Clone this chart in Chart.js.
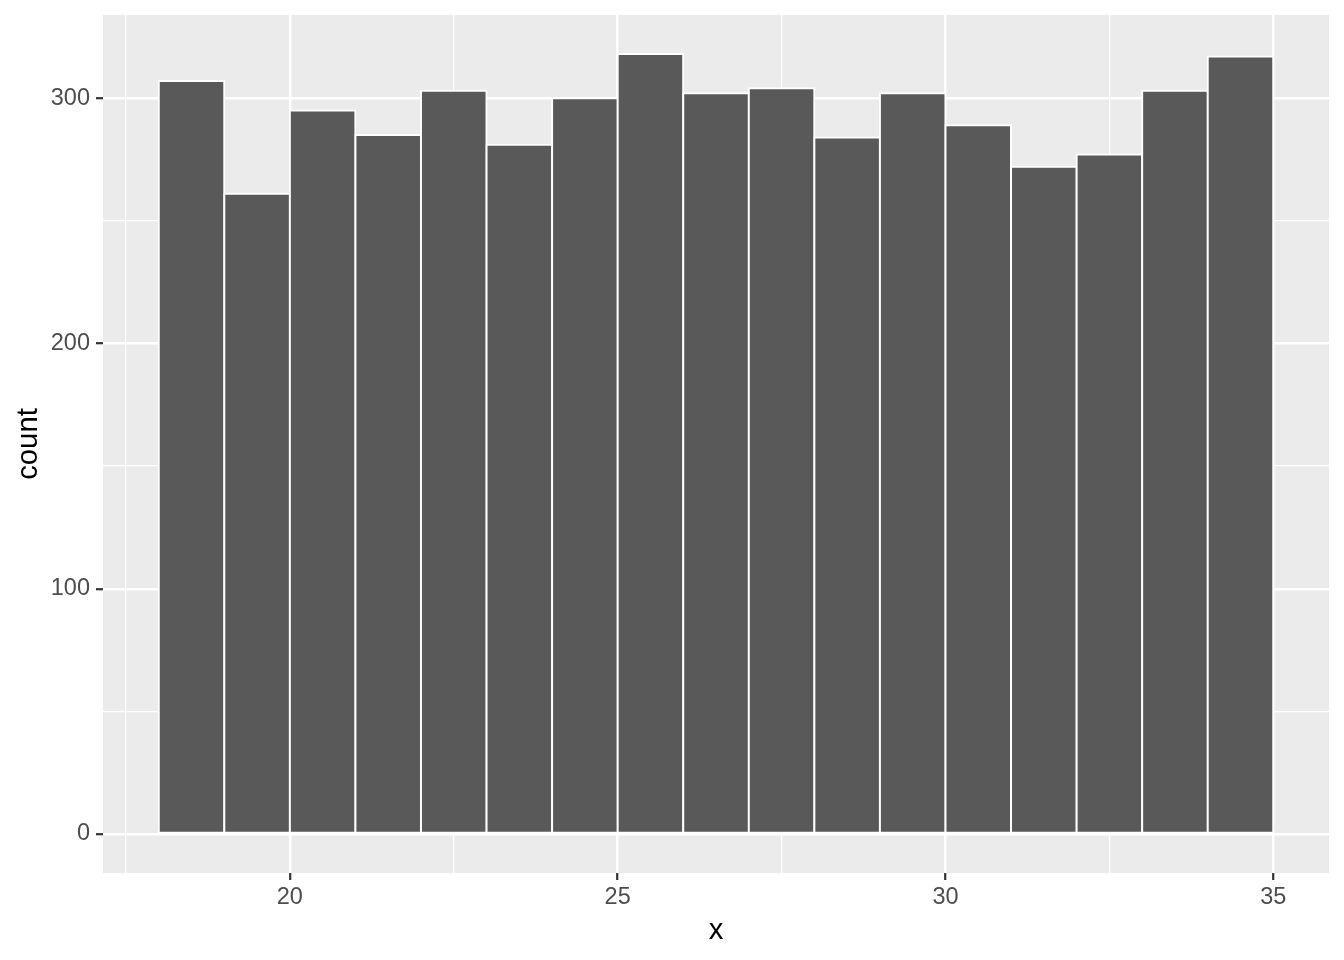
<!DOCTYPE html>
<html>
<head>
<meta charset="utf-8">
<script src="https://cdn.jsdelivr.net/npm/chart.js@4/dist/chart.umd.min.js"></script>
<style>
  html, body { margin: 0; padding: 0; background: #ffffff; }
  canvas { display: block; }
</style>
</head>
<body>
<canvas id="chart" width="1344" height="960"></canvas>
<script>
// histogram bins (width 1) and their counts
const binStarts = [18, 19, 20, 21, 22, 23, 24, 25, 26, 27, 28, 29, 30, 31, 32, 33, 34];
const counts = [307, 261, 295, 285, 303, 281, 300, 318, 302, 304, 284, 302, 289, 272, 277, 303, 317];
const binWidth = 1;

// axis ticks: major ones are labelled, minor ones only get a grid line
const xMajorTicks = [20, 25, 30, 35];
const xGridTicks = [17.5, 20, 22.5, 25, 27.5, 30, 32.5, 35];
const yMajorTicks = [0, 100, 200, 300];
const yGridTicks = [0, 50, 100, 150, 200, 250, 300];

const FONT = '"Liberation Sans", Arial, Helvetica, sans-serif';

// ggplot style 5% expansion around the data
const xMin = binStarts[0], xMax = binStarts[binStarts.length - 1] + binWidth;
const xPad = (xMax - xMin) * 0.05;
const yMaxVal = Math.max(...counts);
const yPad = yMaxVal * 0.05;

const panelBg = {
    id: 'panelBg',
    beforeDraw(chart) {
        const { ctx, chartArea: a } = chart;
        ctx.save();
        ctx.fillStyle = '#ffffff';
        ctx.fillRect(0, 0, chart.width, chart.height);
        ctx.fillStyle = '#EBEBEB';
        ctx.fillRect(a.left, a.top, a.right - a.left, a.bottom - a.top);
        ctx.restore();
    }
};

function gridStyle(majors) {
    return {
        color: '#ffffff',
        lineWidth: (c) => (c.tick && majors.includes(c.tick.value)) ? 2.4 : 1.2,
        tickColor: (c) => (c.tick && majors.includes(c.tick.value)) ? '#333333' : 'rgba(0,0,0,0)',
        tickWidth: 2.2,
        tickLength: 7,
        drawTicks: true,
        offset: false
    };
}

new Chart(document.getElementById('chart'), {
    type: 'bar',
    data: {
        datasets: [{
            label: 'count',
            data: binStarts.map((b, i) => ({ x: b + binWidth / 2, y: counts[i] })),
            backgroundColor: '#595959',
            borderColor: '#ffffff',
            borderWidth: 2,
            borderSkipped: false,
            inflateAmount: 1,
            barPercentage: 1,
            categoryPercentage: 1
        }]
    },
    options: {
        responsive: false,
        animation: false,
        layout: { padding: { left: 0, right: 15, top: 15, bottom: 0 } },
        plugins: {
            legend: { display: false },
            tooltip: { enabled: false }
        },
        scales: {
            x: {
                type: 'linear',
                min: xMin - xPad,
                max: xMax + xPad,
                offset: false,
                afterBuildTicks: (s) => { s.ticks = xGridTicks.map(v => ({ value: v })); },
                afterFit: (s) => { s.height = 87; s.paddingLeft = 0; s.paddingRight = 0; },
                grid: gridStyle(xMajorTicks),
                border: { display: false },
                ticks: {
                    autoSkip: false,
                    maxRotation: 0,
                    padding: 3,
                    color: '#4D4D4D',
                    font: { family: FONT, size: 23.5 },
                    callback: (v) => xMajorTicks.includes(v) ? String(v) : ''
                },
                title: {
                    display: true,
                    text: 'x',
                    color: '#000000',
                    font: { family: FONT, size: 29.3, lineHeight: 1 },
                    padding: { top: 0, bottom: 14 }
                }
            },
            y: {
                min: -yPad,
                max: yMaxVal + yPad,
                afterBuildTicks: (s) => { s.ticks = yGridTicks.map(v => ({ value: v })); },
                afterFit: (s) => { s.width = 103; s.paddingTop = 0; s.paddingBottom = 0; },
                grid: gridStyle(yMajorTicks),
                border: { display: false },
                ticks: {
                    autoSkip: false,
                    padding: 6,
                    color: '#4D4D4D',
                    font: { family: FONT, size: 23.5 },
                    callback: (v) => yMajorTicks.includes(v) ? String(v) : ''
                },
                title: {
                    display: true,
                    text: 'count',
                    color: '#000000',
                    font: { family: FONT, size: 29.3, lineHeight: 1 },
                    padding: { top: 14, bottom: 0 }
                }
            }
        }
    },
    plugins: [panelBg]
});
</script>
</body>
</html>
